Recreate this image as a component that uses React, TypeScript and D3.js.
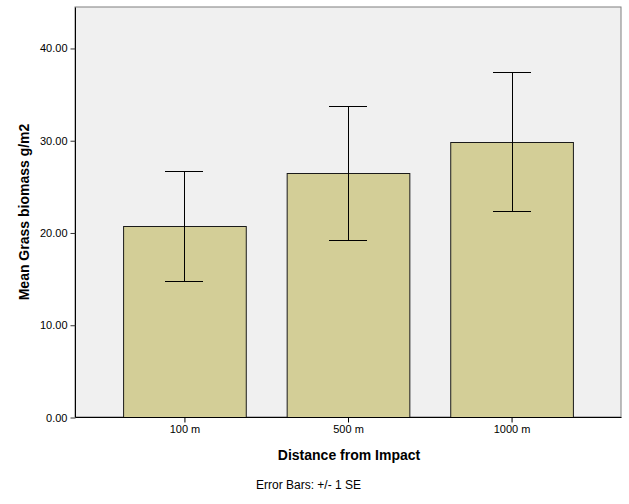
import { useRef, useEffect } from "react";
import * as d3 from "d3";

const categories = ["100 m", "500 m", "1000 m"];
const means = [20.67, 26.48, 29.84];
const upper = [26.63, 33.75, 37.37];
const lower = [14.71, 19.19, 22.3];
const yTicks = [0, 10, 20, 30, 40];

const W = 629;
const H = 504;

export default function App() {
  const svgRef = useRef<SVGSVGElement>(null);

  useEffect(() => {
    if (!svgRef.current) return;
    const svg = d3.select(svgRef.current);
    svg.selectAll("*").remove();

    const left = 75, right = 621, top = 7, bottom = 417;
    const font = "Liberation Sans, Arial, sans-serif";

    const x = d3.scaleBand<string>().domain(categories).range([left, right])
      .paddingInner(0.25).paddingOuter(0.294);
    const y = d3.scaleLinear().domain([0, 44.44]).range([bottom, top]);

    // plot background + frame
    svg.append("rect")
      .attr("x", left).attr("y", top)
      .attr("width", right - left).attr("height", bottom - top)
      .attr("fill", "#f0f0f0")
      .attr("stroke", "#7f7f7f").attr("stroke-width", 1);

    const data = categories.map((c, i) => ({ c, m: means[i], hi: upper[i], lo: lower[i] }));

    // bars
    svg.selectAll("rect.bar")
      .data(data)
      .join("rect")
      .attr("class", "bar")
      .attr("x", (d) => x(d.c)! + 0.5)
      .attr("y", (d) => Math.round(y(d.m)) + 0.5)
      .attr("width", x.bandwidth())
      .attr("height", (d) => bottom - Math.round(y(d.m)))
      .attr("fill", "#d3ce97")
      .attr("stroke", "#1a1a1a")
      .attr("stroke-width", 1);

    // error bars
    const cap = 19;
    const eb = svg.selectAll("g.err").data(data).join("g").attr("class", "err");
    eb.append("line")
      .attr("x1", (d) => Math.round(x(d.c)! + x.bandwidth() / 2) + 0.5)
      .attr("x2", (d) => Math.round(x(d.c)! + x.bandwidth() / 2) + 0.5)
      .attr("y1", (d) => Math.round(y(d.hi)) + 0.5)
      .attr("y2", (d) => Math.round(y(d.lo)) + 0.5)
      .attr("stroke", "#000").attr("stroke-width", 1);
    [(d: any) => d.hi, (d: any) => d.lo].forEach((acc) => {
      eb.append("line")
        .attr("x1", (d) => Math.round(x(d.c)! + x.bandwidth() / 2) - cap)
        .attr("x2", (d) => Math.round(x(d.c)! + x.bandwidth() / 2) + cap)
        .attr("y1", (d) => Math.round(y(acc(d))) + 0.5)
        .attr("y2", (d) => Math.round(y(acc(d))) + 0.5)
        .attr("stroke", "#000").attr("stroke-width", 1);
    });

    // y axis
    const ya = svg.append("g")
      .attr("transform", `translate(${left + 0.5},0.5)`)
      .call(d3.axisLeft(y).tickValues(yTicks).tickSize(5).tickPadding(3).tickFormat(d3.format(".2f")));
    ya.select(".domain").attr("stroke", "#000").attr("d", `M0,${top}V${bottom}`);
    ya.selectAll(".tick line").attr("stroke", "#333");
    ya.selectAll("text").attr("fill", "#000").style("font-family", font).style("font-size", "11px");

    // x axis
    const xa = svg.append("g")
      .attr("transform", `translate(0.5,${bottom + 0.5})`)
      .call(d3.axisBottom(x).tickSize(5).tickPadding(3));
    xa.select(".domain").attr("stroke", "#000").attr("d", `M${left},0H${right}`);
    xa.selectAll(".tick line").attr("stroke", "#000");
    xa.selectAll("text").attr("fill", "#000").style("font-family", font).style("font-size", "11px");

    // titles
    svg.append("text")
      .attr("transform", `translate(29,${(top + bottom) / 2}) rotate(-90)`)
      .attr("text-anchor", "middle")
      .style("font-family", font).style("font-size", "14px").style("font-weight", "bold")
      .text("Mean Grass biomass g/m2");

    svg.append("text")
      .attr("x", (left + right) / 2 + 1).attr("y", 460)
      .attr("text-anchor", "middle")
      .style("font-family", font).style("font-size", "14px").style("font-weight", "bold")
      .text("Distance from Impact");

    svg.append("text")
      .attr("x", 256).attr("y", 489)
      .style("font-family", font).style("font-size", "12px")
      .text("Error Bars: +/- 1 SE");
  }, []);

  return (
    <svg
      ref={svgRef}
      width={W}
      height={H}
      style={{ position: "absolute", left: 0, top: 0, background: "#fff" }}
    />
  );
}
